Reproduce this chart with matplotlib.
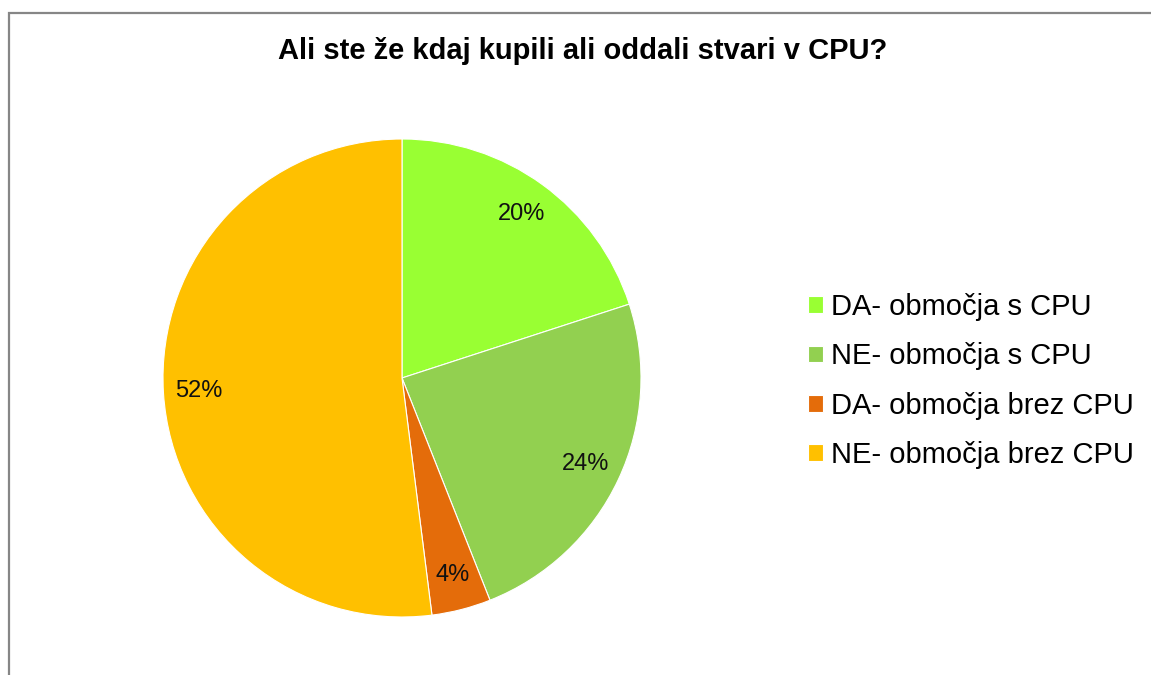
import matplotlib.pyplot as plt
from matplotlib.patches import Rectangle

plt.rcParams['font.family'] = ['Liberation Sans', 'DejaVu Sans']

title = "Ali ste že kdaj kupili ali oddali stvari v CPU?"
labels = ["DA- območja s CPU", "NE- območja s CPU", "DA- območja brez CPU", "NE- območja brez CPU"]
values = [20, 24, 4, 52]
colors = ["#99FF33", "#92D050", "#E46C0A", "#FFC000"]

W, H = 1151, 675
fig = plt.figure(figsize=(W / 100, H / 100), dpi=100)

# frame (only left + top visible in original)
fig.patches.append(Rectangle((8.5 / W, -0.1), 1.2, (H - 13) / H + 0.1,
                             transform=fig.transFigure, fill=False,
                             edgecolor="#868686", linewidth=1.6))

# pie axes: centre (402, 378) px, radius 239 px
cx, cy, r = 402, 378, 239
ax = fig.add_axes([(cx - r) / W, (H - cy - r) / H, 2 * r / W, 2 * r / H])
wedges, texts, autotexts = ax.pie(values, colors=colors, startangle=90, counterclock=False,
                                  autopct='%1.0f%%', pctdistance=0.85,
                                  wedgeprops=dict(edgecolor="white", linewidth=0.8),
                                  textprops=dict(fontsize=17, color="#111111"))
ax.set_xlim(-1, 1)
ax.set_ylim(-1, 1)
ax.set_aspect('equal')

fig.text(583 / W, 1 - 51 / H, title, ha='center', va='center',
         fontsize=21, fontweight='bold')

fig.legend(wedges, labels, loc='center left', bbox_to_anchor=(808 / W, 1 - 381 / H),
           frameon=False, fontsize=21, handlelength=0.5, handleheight=0.5,
           handletextpad=0.3, labelspacing=0.73, borderaxespad=0, borderpad=0)

fig.savefig("out.png", dpi=100)
